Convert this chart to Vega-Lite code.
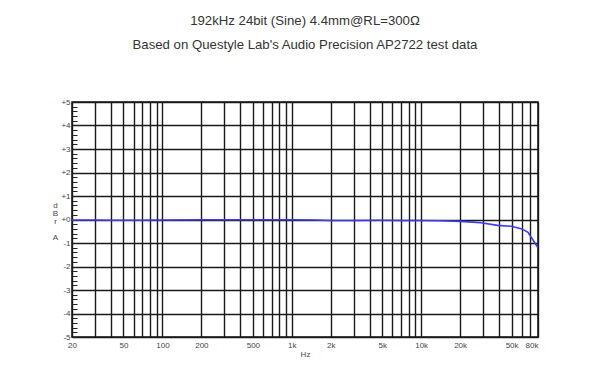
{
  "$schema": "https://vega.github.io/schema/vega-lite/v6.json",
  "autosize": "none",
  "width": 466,
  "height": 235,
  "padding": {"left": 72, "top": 102, "right": 71, "bottom": 44},
  "background": "white",
  "title": {
    "text": ["192kHz 24bit (Sine) 4.4mm@RL=300Ω", "Based on Questyle Lab's Audio Precision AP2722 test data"],
    "font": "Liberation Sans",
    "fontSize": 13.2,
    "fontWeight": "normal",
    "color": "#333333",
    "lineHeight": 24,
    "offset": 46,
    "anchor": "middle"
  },
  "config": {
    "view": {"stroke": "#111111", "strokeWidth": 1.5},
    "axis": {"labelFont": "Liberation Sans", "titleFont": "Liberation Sans"}
  },
  "data": {
    "values": [
      {"f": 20, "db": -0.02},
      {"f": 30, "db": -0.02},
      {"f": 40, "db": -0.03},
      {"f": 50, "db": -0.03},
      {"f": 70, "db": -0.03},
      {"f": 100, "db": -0.02},
      {"f": 200, "db": -0.01},
      {"f": 500, "db": -0.01},
      {"f": 1000, "db": -0.01},
      {"f": 1500, "db": -0.02},
      {"f": 2000, "db": -0.04},
      {"f": 3000, "db": -0.04},
      {"f": 5000, "db": -0.03},
      {"f": 7000, "db": -0.04},
      {"f": 10000, "db": -0.04},
      {"f": 14000, "db": -0.05},
      {"f": 20000, "db": -0.08},
      {"f": 25000, "db": -0.11},
      {"f": 29000, "db": -0.14},
      {"f": 39000, "db": -0.25},
      {"f": 50000, "db": -0.29},
      {"f": 60000, "db": -0.4},
      {"f": 67000, "db": -0.55},
      {"f": 80000, "db": -1.2}
    ]
  },
  "mark": {"type": "line", "color": "#3a3af0", "strokeWidth": 1.6, "clip": true},
  "encoding": {
    "x": {
      "field": "f",
      "type": "quantitative",
      "scale": {"type": "log", "domain": [20, 80000], "nice": false},
      "axis": {
        "orient": "bottom",
        "title": "Hz",
        "titleFontSize": 8,
        "titleFontWeight": "normal",
        "titleColor": "#444444",
        "titleBaseline": "top",
        "titleY": 13,
        "values": [20,30,40,50,60,70,80,90,100,200,300,400,500,600,700,800,900,1000,2000,3000,4000,5000,6000,7000,8000,9000,10000,20000,30000,40000,50000,60000,70000,80000],
        "labelExpr": "indexof([20,50,100,200,500,1000,2000,5000,10000,20000,50000,80000], datum.value) >= 0 ? (datum.value >= 1000 ? (datum.value/1000) + 'k' : '' + datum.value) : ''",
        "labelOverlap": false,
        "labelFlush": false,
        "labelAlign": {"condition": {"test": "datum.value == 80000", "value": "right"}, "value": "center"},
        "labelFontSize": 8,
        "labelColor": "#444444",
        "labelPadding": 4,
        "ticks": false,
        "domain": false,
        "grid": true,
        "gridColor": "#1a1a1a",
        "gridWidth": 1.4
      }
    },
    "y": {
      "field": "db",
      "type": "quantitative",
      "scale": {"domain": [-5, 5], "nice": false, "zero": false},
      "axis": {
        "orient": "left",
        "title": ["d", "B", "r", "\u200b", "A"],
        "titleAngle": 0,
        "titleFontSize": 8,
        "titleFontWeight": "normal",
        "titleColor": "#444444",
        "titleLineHeight": 8,
        "titleAlign": "center",
        "titleBaseline": "top",
        "titleX": -17,
        "titleY": 99,
        "values": [-5,-4.8,-4.6,-4.4,-4.2,-4,-3.8,-3.6,-3.4,-3.2,-3,-2.8,-2.6,-2.4,-2.2,-2,-1.8,-1.6,-1.4,-1.2,-1,-0.8,-0.6,-0.4,-0.2,0,0.2,0.4,0.6,0.8,1,1.2,1.4,1.6,1.8,2,2.2,2.4,2.6,2.8,3,3.2,3.4,3.6,3.8,4,4.2,4.4,4.6,4.8,5],
        "labelExpr": "abs(datum.value - round(datum.value)) < 0.01 ? (datum.value >= 0 ? '+' + round(datum.value) : '' + round(datum.value)) : ''",
        "labelOverlap": false,
        "labelFlush": false,
        "labelFontSize": 8,
        "labelColor": "#444444",
        "labelPadding": 7,
        "ticks": true,
        "tickSize": -5,
        "tickColor": "#222222",
        "tickWidth": 1,
        "domain": false,
        "grid": true,
        "gridColor": "#1a1a1a",
        "gridWidth": 1.4,
        "gridOpacity": {"condition": {"test": "abs(datum.value - round(datum.value)) < 0.01", "value": 1}, "value": 0}
      }
    }
  }
}
